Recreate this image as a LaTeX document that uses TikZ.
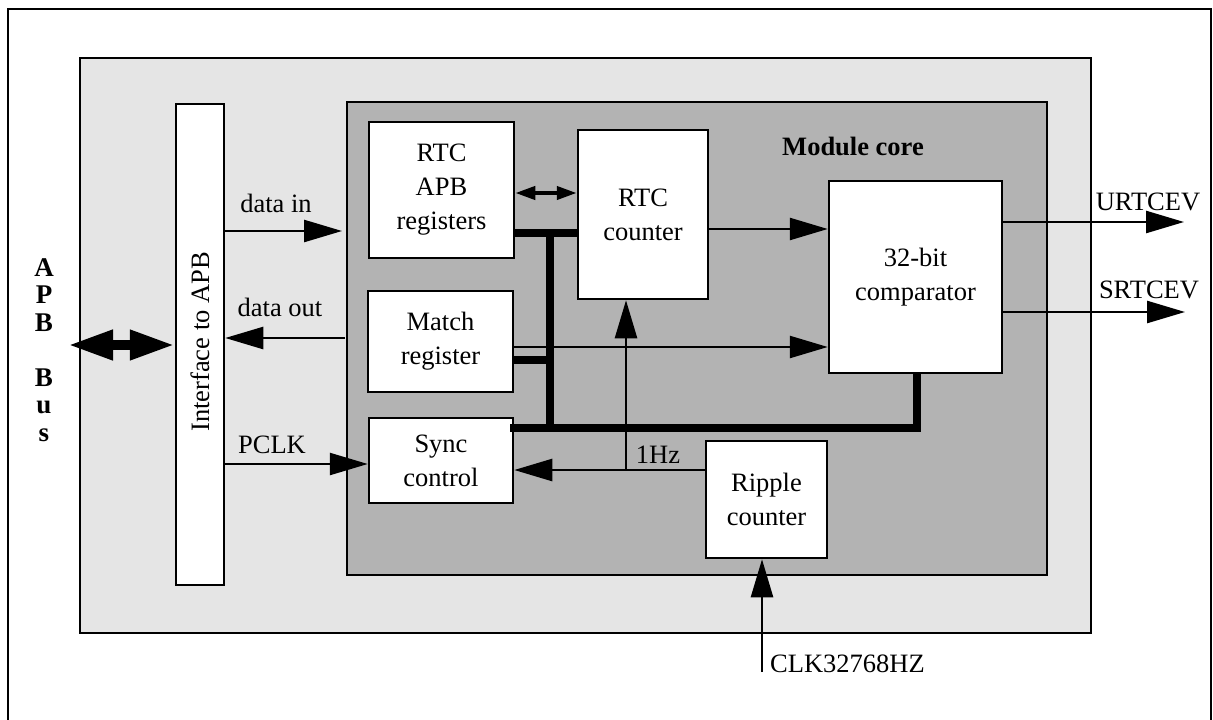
\documentclass[tikz,border=0pt]{standalone}
\usepackage{fontspec}
\setmainfont{Liberation Serif}
\usetikzlibrary{arrows.meta}
\definecolor{lightbg}{HTML}{E5E5E5}
\definecolor{corebg}{HTML}{B3B3B3}
\begin{document}
\begin{tikzpicture}[x=1pt,y=-1pt,
  every node/.style={font=\fontsize{26.5}{34}\selectfont},
  frame/.style={draw, line width=2.5pt, inner sep=0pt},
  blk/.style={draw, line width=2.5pt, fill=white, align=center, inner sep=0pt},
  arr/.style={line width=2.5pt, -{Triangle[length=38pt,width=22pt]}},
  bus/.style={line width=8pt, line cap=butt, line join=miter},
  busarrow/.style={line width=10pt, {Triangle[length=45pt,width=28pt]}-{Triangle[length=45pt,width=28pt]}},
  smallarrow/.style={line width=4pt, {Triangle[length=20pt,width=13pt]}-{Triangle[length=20pt,width=13pt]}},
  lbl/.style={inner sep=0pt},
  buslbl/.style={inner sep=0pt, align=center, font=\fontsize{27}{27.5}\selectfont\bfseries}]
\useasboundingbox (0,0) rectangle (1213,720);
% outer frame (bottom edge lies outside the picture)
\draw[line width=2.5pt] (8,730) -- (8,9) -- (1211,9) -- (1211,730);
% grey areas
\node[frame, fill=lightbg, minimum width=1011pt, minimum height=575pt] (outer) at (585.5,345.5) {};
\node[frame, fill=corebg, minimum width=700pt, minimum height=473pt] (core) at (697,338.5) {};
\node[lbl, font=\fontsize{26.5}{30}\selectfont\bfseries] (corelbl) at (853,146) {Module core};
% interface
\node[blk, minimum width=48pt, minimum height=481pt] (iface) at (200,344.5) {};
\node[lbl, rotate=90] (ifacelbl) at (200,342) {Interface to APB};
% blocks
\node[blk, minimum width=145pt, minimum height=136pt] (rtcapb) at (441.5,190) {RTC\\APB\\registers};
\node[blk, minimum width=130pt, minimum height=169pt] (rtccnt) at (643,214.5) {RTC\\counter};
\node[blk, minimum width=145pt, minimum height=101pt] (match) at (440.5,341.5) {Match\\register};
\node[blk, minimum width=144pt, minimum height=85pt] (sync) at (441,460.5) {Sync\\control};
\node[blk, minimum width=173pt, minimum height=192pt] (comp) at (915.5,277) {32-bit\\comparator};
\node[blk, minimum width=121pt, minimum height=117pt] (ripple) at (766.5,499.5) {Ripple\\counter};
% APB Bus letters
\node[buslbl] (apbbus) at (44,350) {A\\P\\B\\[27.5pt]B\\u\\s};
% coordinates
\coordinate (apbend) at (68,345);
\coordinate (din) at (342,231);
\coordinate (dout) at (345,338);
\coordinate (b1) at (550,233);
\coordinate (b2) at (550,428);
\coordinate (b3) at (917,428);
\coordinate (b4) at (550,360);
\coordinate (bs) at (510,428);
\coordinate (hz) at (626,470);
\coordinate (uout) at (1184,222);
\coordinate (sout) at (1185,312);
\coordinate (clk) at (762,672);
% APB bus arrow
\draw[busarrow] (apbend) -- (iface.west |- apbend);
% data in / out / PCLK
\draw[arr] (iface.east |- din) -- (din);
\node[lbl] (dinlbl) at (276,203) {data in};
\draw[arr] (dout) -- (iface.east |- dout);
\node[lbl] (doutlbl) at (280,307) {data out};
\draw[arr] (iface.east |- 0,464) -- (sync.west |- 0,464);
\node[lbl] (pclklbl) at (272,445) {PCLK};
% registers <-> counter
\draw[smallarrow] (rtcapb.east |- 0,193) -- (rtccnt.west |- 0,193);
% buses
\draw[bus] (rtcapb.east |- b1) -- (rtccnt.west |- b1);
\draw[bus] (b1) -- (b2);
\draw[bus] (bs) -- (b3) -- (b3 |- comp.south);
\draw[bus] (match.east |- b4) -- (b4);
% thin connections
\draw[arr] (rtccnt.east |- 0,229) -- (comp.west |- 0,229);
\draw[arr] (match.east |- 0,347) -- (comp.west |- 0,347);
\draw[arr] (ripple.west |- hz) -- (sync.east |- hz);
\draw[arr] (hz) -- (hz |- rtccnt.south);
\node[lbl] (hzlbl) at (658,455) {1Hz};
\draw[arr] (comp.east |- uout) -- (uout);
\node[lbl] (ulbl) at (1148,202) {URTCEV};
\draw[arr] (comp.east |- sout) -- (sout);
\node[lbl] (slbl) at (1149,290) {SRTCEV};
\draw[arr] (clk) -- (clk |- ripple.south);
\node[lbl, anchor=west] (clklbl) at (770,664) {CLK32768HZ};
\end{tikzpicture}
\end{document}
